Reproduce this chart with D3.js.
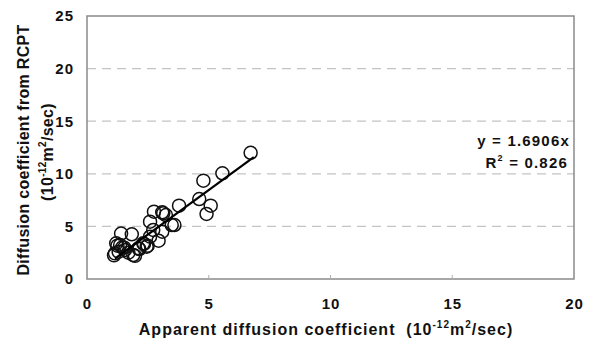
<!DOCTYPE html>
<html>
<head>
<meta charset="utf-8">
<script src="https://cdn.jsdelivr.net/npm/d3@7"></script>
<style>
  html, body { margin: 0; padding: 0; background: #fff; }
  svg text { font-family: "Liberation Sans", Arial, sans-serif; font-weight: bold; fill: #111; }
</style>
</head>
<body>
<svg id="chart" width="593" height="345"></svg>
<script>
// Apparent diffusion coefficient (x) vs RCPT diffusion coefficient (y), 10^-12 m2/sec
const apparentD = [6.72, 5.56, 4.78, 4.61, 5.08, 4.91, 3.78, 2.75, 3.09, 3.24, 2.59, 3.59, 2.72, 3.09,
                   2.94, 2.49, 1.40, 1.84, 2.15, 1.97, 1.53, 1.25, 1.11, 2.34, 3.13, 2.59, 2.45, 2.11,
                   1.90, 1.56, 1.36, 1.15, 1.20, 2.31, 3.48, 1.70, 1.30, 1.45];
const rcptD    = [12.0, 10.05, 9.35, 7.6, 6.97, 6.18, 6.97, 6.4, 6.34, 6.08, 5.45, 5.13, 4.66, 4.5,
                   3.64, 3.17, 4.32, 4.25, 2.85, 2.2, 2.98, 3.17, 2.25, 3.33, 6.24, 4.02, 3.07, 2.92,
                   2.28, 2.76, 3.23, 2.44, 3.39, 3.39, 5.13, 2.5, 2.6, 3.0];
const slope = 1.6906;
const rSquared = 0.826;
const fitRange = [1.15, 6.85];
const xTicks = [0, 5, 10, 15, 20];
const yTicks = [0, 5, 10, 15, 20, 25];
const gridTicks = [5, 10, 15, 20];

const svg = d3.select("#chart");
const plotL = 87, plotR = 574, plotT = 16, plotB = 279;

const x = d3.scaleLinear().domain([0, 20]).range([plotL, plotR]);
const y = d3.scaleLinear().domain([0, 25]).range([plotB, plotT]);

// dashed horizontal gridlines
svg.append("g").selectAll("line").data(gridTicks).join("line")
  .attr("x1", plotL).attr("x2", plotR)
  .attr("y1", d => y(d)).attr("y2", d => y(d))
  .attr("stroke", "#c4c4c4").attr("stroke-width", 1.3)
  .attr("stroke-dasharray", "9,6");

// plot frame
svg.append("rect")
  .attr("x", plotL).attr("y", plotT)
  .attr("width", plotR - plotL).attr("height", plotB - plotT)
  .attr("fill", "none").attr("stroke", "#8a8a8a").attr("stroke-width", 1.5);

// inner tick marks on the bottom edge
svg.append("g").selectAll("line").data(xTicks.slice(1, -1)).join("line")
  .attr("x1", d => x(d)).attr("x2", d => x(d))
  .attr("y1", plotB).attr("y2", plotB - 4)
  .attr("stroke", "#b0b0b0").attr("stroke-width", 1);

function styleTicks(g) {
  g.select(".domain").remove();
  g.selectAll("text")
    .attr("font-size", 15).attr("font-family", null)
    .style("font-family", "Liberation Sans, Arial, sans-serif")
    .style("letter-spacing", "1px");
}

// axis labels via d3 axes, lines hidden
svg.append("g").attr("transform", `translate(0,${plotB})`)
  .call(d3.axisBottom(x).tickValues(xTicks).tickSize(0).tickPadding(19))
  .call(styleTicks);

svg.append("g").attr("transform", `translate(${plotL - 1},0)`)
  .call(d3.axisLeft(y).tickValues(yTicks).tickSize(0).tickPadding(12))
  .call(styleTicks);

// data points (hollow markers)
svg.append("g").selectAll("circle").data(apparentD.map((d, i) => [d, rcptD[i]])).join("circle")
  .attr("cx", d => x(d[0])).attr("cy", d => y(d[1]))
  .attr("r", 6.5)
  .attr("fill", "none")
  .attr("stroke", "#111").attr("stroke-width", 1.5);

// linear trendline through the origin
const line = d3.line().x(d => x(d)).y(d => y(slope * d));
svg.append("path").datum(fitRange)
  .attr("d", line).attr("fill", "none")
  .attr("stroke", "#000").attr("stroke-width", 2.2);

// trendline equation
svg.append("text").attr("x", 570).attr("y", 146).attr("text-anchor", "end")
  .attr("font-size", 15).style("letter-spacing", "1.2px").text(`y = ${slope}x`);
const r2 = svg.append("text").attr("x", 568).attr("y", 168).attr("text-anchor", "end")
  .attr("font-size", 15).style("letter-spacing", "1.2px");
r2.append("tspan").text("R");
r2.append("tspan").attr("font-size", 9).attr("dy", -7).text("2");
r2.append("tspan").attr("dy", 7).text(` = ${rSquared}`);

// x-axis title
const xt = svg.append("text").attr("x", 326).attr("y", 335).attr("text-anchor", "middle")
  .attr("font-size", 16).style("letter-spacing", "1px").style("white-space", "pre");
xt.append("tspan").text("Apparent diffusion coefficient  (10");
xt.append("tspan").attr("font-size", 10).attr("dy", -7).text("-12");
xt.append("tspan").attr("dy", 7).text("m");
xt.append("tspan").attr("font-size", 10).attr("dy", -7).text("2");
xt.append("tspan").attr("dy", 7).text("/sec)");

// y-axis title, two lines
const yt = svg.append("g").attr("transform", "translate(29,150) rotate(-90)");
yt.append("text").attr("text-anchor", "middle").attr("font-size", 16)
  .style("letter-spacing", "0.3px")
  .text("Diffusion coefficient from RCPT");
const yt2 = yt.append("text").attr("text-anchor", "middle").attr("y", 24).attr("x", -2)
  .attr("font-size", 16).style("letter-spacing", "0.3px");
yt2.append("tspan").text("(10");
yt2.append("tspan").attr("font-size", 10).attr("dy", -7).text("-12");
yt2.append("tspan").attr("dy", 7).text("m");
yt2.append("tspan").attr("font-size", 10).attr("dy", -7).text("2");
yt2.append("tspan").attr("dy", 7).text("/sec)");
</script>
</body>
</html>
